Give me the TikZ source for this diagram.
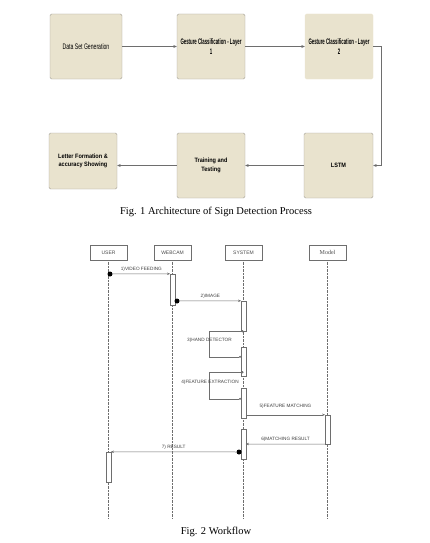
\documentclass[tikz,border=0pt]{standalone}
\usepackage{fontspec}
\setmainfont{Liberation Serif}
\setsansfont{Liberation Sans}
\newfontfamily\narrowfont[FakeStretch=0.64]{Liberation Sans}
\newfontfamily\condfont[FakeStretch=0.54]{Liberation Sans}
\newfontfamily\blockfont[FakeStretch=0.88]{Liberation Sans}
\usetikzlibrary{arrows.meta, positioning}
\definecolor{boxfill}{RGB}{233,227,206}
\definecolor{boxline}{RGB}{165,162,152}
\definecolor{seqline}{RGB}{110,110,110}

\begin{document}
\begin{tikzpicture}[
    x=1pt, y=-1pt,
    block/.style={rectangle, draw=boxline, fill=boxfill, rounded corners=1.5pt,
                  minimum width=68pt, minimum height=65pt, align=center, inner sep=1pt,
                  text=black},
    toptext/.style={font=\condfont\bfseries\fontsize{8}{10.5}\selectfont},
    lowtext/.style={font=\blockfont\bfseries\fontsize{6.3}{8.5}\selectfont},
    rel/.style={-{Stealth[length=3.5pt, width=3pt]}, draw=seqline, line width=0.5pt},
    head/.style={rectangle, draw=seqline, fill=white, minimum width=37pt, minimum height=15pt,
                 inner sep=0pt, text=black!70, font=\sffamily\fontsize{5}{6}\selectfont},
    act/.style={rectangle, draw=seqline, fill=white, minimum width=4.5pt, inner sep=0pt},
    life/.style={draw=seqline, densely dotted, line width=0.4pt},
    msg/.style={-{Stealth[length=3pt, width=2.5pt]}, draw=seqline, line width=0.5pt},
    selfmsg/.style={{Circle[length=2.2pt]}-{Circle[length=2pt]}, draw=seqline, line width=0.5pt},
    lbl/.style={inner sep=1pt, text=black!75, font=\sffamily\fontsize{4.7}{5}\selectfont},
    bigdot/.style={circle, fill=black, inner sep=0pt, minimum size=5pt},
    caption/.style={font=\fontsize{10.5}{12}\selectfont}
  ]
    \useasboundingbox (0,0) rectangle (429,543);

    \node[block, minimum width=72pt, font=\narrowfont\fontsize{8}{10}\selectfont] (gen) at (86,46.5)
        {Data Set Generation};
    \node[block, toptext] (gc1) at (211,46.5) {Gesture Classification - Layer\\1};
    \node[block, toptext, draw=boxfill] (gc2) at (339,46.5) {Gesture Classification - Layer\\2};
    \node[block, lowtext, minimum height=56pt] (letter) at (83,161)
        {Letter Formation \&\\accuracy Showing};
    \node[block, lowtext] (train) at (211,165.5) {Training and\\Testing};
    \node[block, lowtext, minimum width=69pt] (lstm) at (338.5,165.5) {LSTM};

    \draw[rel] (gen) -- (gc1);
    \draw[rel] (gc1) -- (gc2);
    \draw[rel] (gc2.east) -- ++(8,0) |- (lstm.east);
    \draw[rel] (lstm) -- (train);
    \draw[rel] (train.west) -- (train.west -| letter.east);

    \node[caption] (fig1) at (216,212) {Fig. 1 Architecture of Sign Detection Process};

    \node[head] (user) at (108.5,252.5) {USER};
    \node[head] (webcam) at (172.5,252.5) {WEBCAM};
    \node[head] (system) at (243.5,252.5) {SYSTEM};
    \node[head, font=\rmfamily\fontsize{6}{7}\selectfont] (model) at (327.5,252.5) {Model};
    \coordinate (bottom) at (0,518);
    \foreach \n in {user,webcam,system,model}
      \draw[life] (\n.south) -- (\n.south |- bottom);

    \node[act, minimum height=31pt] (w1) at (172.5,289.5) {};
    \node[act, minimum height=30pt] (s1) at (243.5,316) {};
    \node[act, minimum height=29pt] (s2) at (243.5,361.5) {};
    \node[act, minimum height=30pt] (s3) at (243.5,403) {};
    \node[act, minimum height=29pt] (m1) at (327.5,429.5) {};
    \node[act, minimum height=30pt] (s4) at (243.5,444) {};
    \node[act, minimum height=30pt] (u1) at (108.5,467) {};

    \node[bigdot] (d1) at (110,274) {};
    \draw[msg] (d1) -- node[lbl, above=1pt] {1)VIDEO FEEDING} (w1.north west);

    \node[bigdot] (d2) at (177,301) {};
    \draw[msg] (d2) -- node[lbl, above=1.5pt] {2)IMAGE} (s1.north west);

    \path (s2.north west) ++(0,10) coordinate (h3);
    \draw[selfmsg] (s1.south) -- ++(-34,0) |- (h3);
    \node[lbl] (l3) at (209.5,340) {3)HAND DETECTOR};

    \path (s2.south) ++(0,-4) coordinate (f4);
    \path (s3.north west) ++(0,11) coordinate (h4);
    \draw[selfmsg] (f4) -- ++(-34,0) |- (h4);
    \node[lbl] (l4) at (210,382) {4)FEATURE EXTRACTION};

    \draw[msg] (s3.east |- m1.north) -- node[lbl, above=5.5pt] {5)FEATURE MATCHING} (m1.north west);
    \draw[msg] (m1.south west) -- node[lbl, above=1.5pt] {6)MATCHING RESULT} (s4.east);

    \node[bigdot] (d7) at (239,452) {};
    \draw[msg] (d7) -- node[lbl, above=1.5pt] {7) RESULT} (u1.north east);

    \node[caption] (fig2) at (216,532) {Fig. 2 Workflow};
  \end{tikzpicture}
\end{document}
